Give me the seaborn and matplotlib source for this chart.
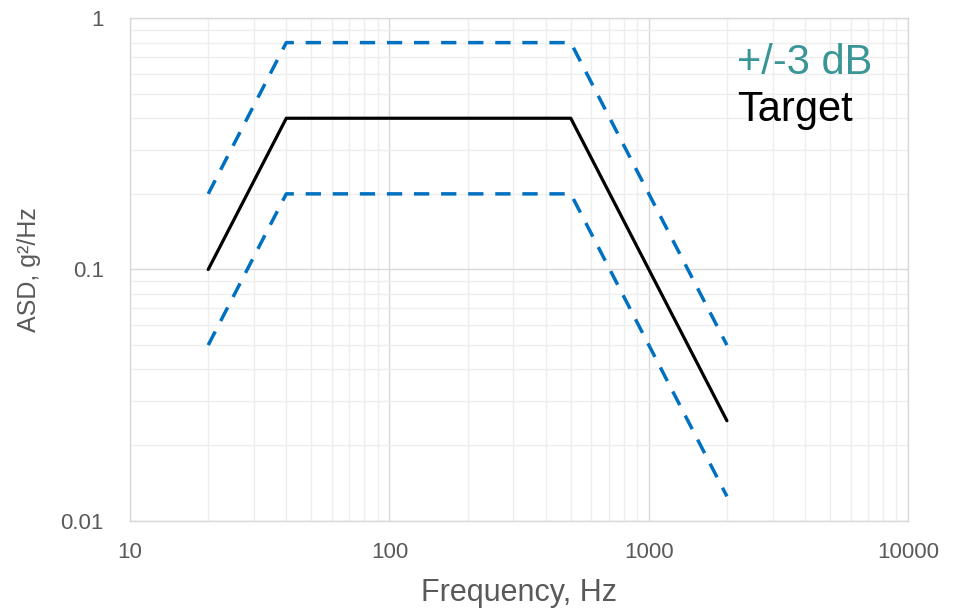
import numpy as np
import pandas as pd
import matplotlib
matplotlib.use("Agg")
import matplotlib.pyplot as plt
import seaborn as sns

# profile breakpoints
freq = [20, 40, 500, 2000]
target = [0.1, 0.4, 0.4, 0.025]
upper = [0.2, 0.8, 0.8, 0.05]
lower = [0.05, 0.2, 0.2, 0.0125]

x_ticks = [10, 100, 1000, 10000]
y_ticks = [0.01, 0.1, 1]

sns.set_style("white")
plt.rcParams['font.family'] = ['Liberation Sans', 'DejaVu Sans']

fig, ax = plt.subplots(figsize=(9.57, 6.09), dpi=100)
fig.subplots_adjust(left=0.136, right=0.949, top=0.970, bottom=0.145)

blue = '#0070c0'
dash = (0, (4.4, 3.4))
sns.lineplot(x=freq, y=upper, ax=ax, color=blue, linewidth=2.5,
             linestyle=dash, dash_capstyle='butt')
sns.lineplot(x=freq, y=lower, ax=ax, color=blue, linewidth=2.5,
             linestyle=dash, dash_capstyle='butt')
sns.lineplot(x=freq, y=target, ax=ax, color='black', linewidth=2.3)

ax.set_xscale('log')
ax.set_yscale('log')
ax.set_xlim(10, 10000)
ax.set_ylim(0.01, 1)
ax.set_xticks(x_ticks)
ax.set_xticklabels([str(t) for t in x_ticks])
ax.set_yticks(y_ticks)
ax.set_yticklabels([str(t) for t in y_ticks])

# grid formatting
ax.grid(which='major', color='#d9d9d9', linewidth=1.0)
ax.grid(which='minor', color='#eeeeee', linewidth=1.0)
ax.set_axisbelow(True)
for s in ax.spines.values():
    s.set_color('#d9d9d9')
    s.set_linewidth(1.0)
ax.tick_params(axis='x', which='both', length=0, labelsize=16,
               labelcolor='#595959', pad=15)
ax.tick_params(axis='y', which='both', length=0, labelsize=16,
               labelcolor='#595959', pad=19)

ax.set_xlabel('Frequency, Hz', fontsize=22, color='#595959', labelpad=11)
ax.set_ylabel('ASD, g²/Hz', fontsize=18, color='#595959', labelpad=14)

# legend as text
ax.text(0.78, 0.91, '+/-3 dB', transform=ax.transAxes, fontsize=30,
        color='#3a9696', va='center', ha='left')
ax.text(0.78, 0.817, 'Target', transform=ax.transAxes, fontsize=30,
        color='black', va='center', ha='left')

plt.savefig('out.png', dpi=100)
